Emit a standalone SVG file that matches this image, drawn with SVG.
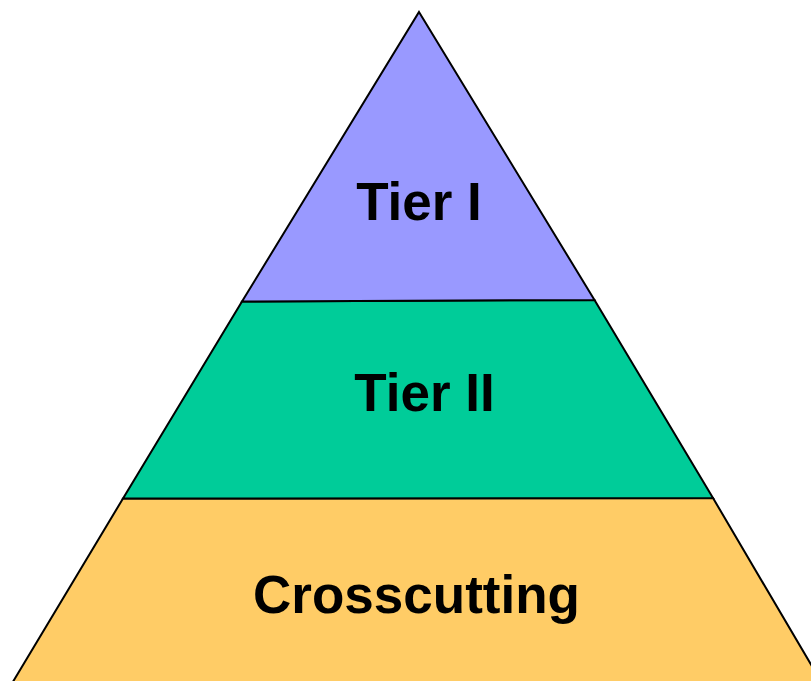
<svg xmlns="http://www.w3.org/2000/svg" width="811" height="681" viewBox="0 0 811 681">
<style>
.tier{stroke:#000;stroke-width:2;stroke-linejoin:miter}
.lbl{font-family:"Liberation Sans",Arial,sans-serif;font-weight:bold;font-size:53px;fill:#000;text-anchor:middle}
</style>
<rect width="811" height="681" fill="#fff"/>
<g id="crosscutting">
<polygon class="tier" fill="#FFCC66" points="123,498.5 713,498 826,690 8,690"/>
<text class="lbl" x="416.5" y="613">Crosscutting</text>
</g>
<g id="tier2">
<polygon class="tier" fill="#00CC99" points="242,301.5 594.5,300 713,498 123,498.5"/>
<text class="lbl" x="424.5" y="411">Tier II</text>
</g>
<g id="tier1">
<polygon class="tier" fill="#9999FF" points="419,12 594.5,300 242,301.5"/>
<text class="lbl" x="419" y="219.5">Tier I</text>
</g>
</svg>
